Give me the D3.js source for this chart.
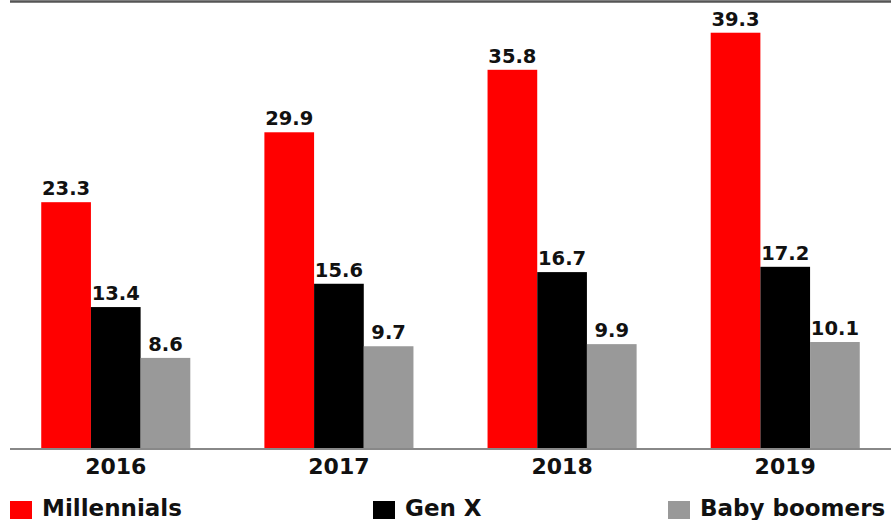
<!DOCTYPE html>
<html>
<head>
<meta charset="utf-8">
<script src="https://cdn.jsdelivr.net/npm/d3@7"></script>
<style>
  body { margin: 0; background: #fff; }
  svg text { font-family: "DejaVu Sans", sans-serif; font-weight: bold; fill: #111; }
</style>
</head>
<body>
<svg id="chart" width="891" height="520"></svg>
<script>
const years = ['2016', '2017', '2018', '2019'];
const seriesNames = ['Millennials', 'Gen X', 'Baby boomers'];
const millennials = [23.3, 29.9, 35.8, 39.3];
const genX = [13.4, 15.6, 16.7, 17.2];
const boomers = [8.6, 9.7, 9.9, 10.1];
const colors = ['#ff0000', '#000000', '#999999'];

const svg = d3.select('#chart');
const width = 891, height = 520;
const baseY = 449;

const rows = years.map((y, i) => ({year: y, values: [millennials[i], genX[i], boomers[i]]}));

const x0 = d3.scaleBand().domain(years).range([10, 891]).paddingInner(0.332).paddingOuter(0.14);
const x1 = d3.scaleBand().domain(seriesNames).range([0, x0.bandwidth()]);
const y = d3.scaleLinear().domain([0, 42.2]).range([baseY, 2]);

// top frame line
svg.append('line')
    .attr('x1', 10).attr('x2', width)
    .attr('y1', 1.5).attr('y2', 1.5)
    .attr('stroke', '#555').attr('stroke-width', 2.5);

const groups = svg.selectAll('g.year')
    .data(rows)
    .enter().append('g')
    .attr('class', 'year')
    .attr('transform', d => `translate(${x0(d.year)},0)`);

groups.selectAll('rect')
    .data(d => d.values.map((v, i) => ({name: seriesNames[i], value: v, i: i})))
    .enter().append('rect')
    .attr('x', d => x1(d.name))
    .attr('y', d => y(d.value))
    .attr('width', x1.bandwidth())
    .attr('height', d => baseY - y(d.value))
    .attr('fill', d => colors[d.i]);

groups.selectAll('text.val')
    .data(d => d.values.map((v, i) => ({name: seriesNames[i], value: v})))
    .enter().append('text')
    .attr('class', 'val')
    .attr('x', d => x1(d.name) + x1.bandwidth() / 2)
    .attr('y', d => y(d.value) - 7)
    .attr('text-anchor', 'middle')
    .attr('font-size', 19.5)
    .text(d => d.value.toFixed(1));

// baseline + year labels
const xAxis = svg.append('g').attr('transform', `translate(0,${baseY})`)
    .call(d3.axisBottom(x0).tickSize(0).tickPadding(6));
xAxis.select('.domain').attr('stroke', '#888').attr('stroke-width', 2)
    .attr('d', `M10,0H${width}`);
xAxis.selectAll('text')
    .attr('font-size', 22)
    .attr('font-family', '"DejaVu Sans", sans-serif')
    .attr('font-weight', 'bold')
    .attr('fill', '#111')
    .attr('dy', '0.85em');

// legend
const legendX = [10, 373, 668];
const legend = svg.selectAll('g.legend')
    .data(seriesNames)
    .enter().append('g')
    .attr('class', 'legend')
    .attr('transform', (d, i) => `translate(${legendX[i]},501)`);
legend.append('rect')
    .attr('width', 22).attr('height', 18)
    .attr('fill', (d, i) => colors[i]);
legend.append('text')
    .attr('x', 32).attr('y', 15)
    .attr('font-size', 23)
    .text(d => d);
</script>
</body>
</html>
